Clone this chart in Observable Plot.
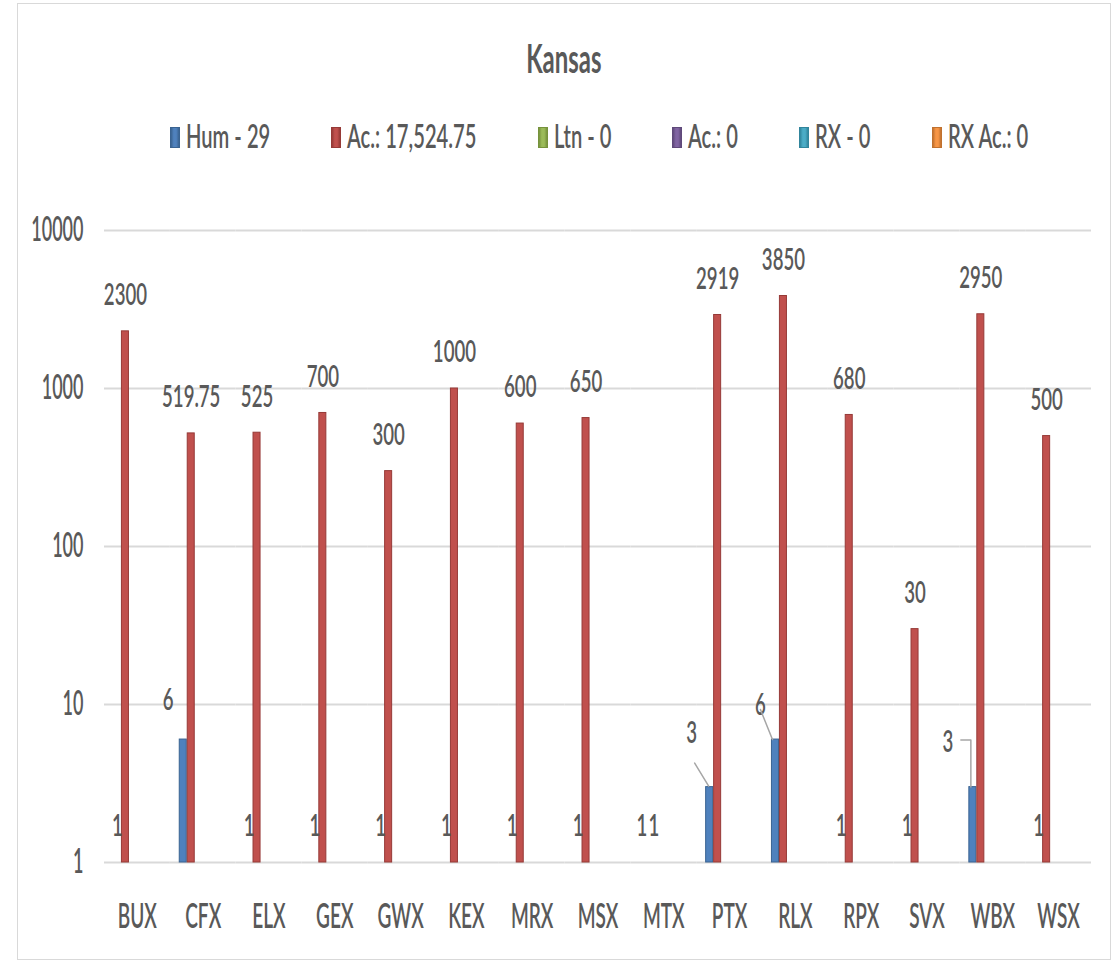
<!DOCTYPE html>
<html>
<head>
<meta charset="utf-8">
<script src="https://cdn.jsdelivr.net/npm/d3@7"></script>
<script src="https://cdn.jsdelivr.net/npm/@observablehq/plot@0.6"></script>
<style>
  html, body { margin: 0; padding: 0; background: #fff; overflow: hidden; }
  #wrap { position: relative; width: 1119px; height: 961px; font-family: Lato, "Open Sans", sans-serif; color: #595959; }
  #frame { position: absolute; left: 17px; top: 3px; width: 1094px; height: 957px; border: 1px solid #d9d9d9; box-sizing: border-box; pointer-events: none; }
  #header { position: relative; height: 180px; }
  #title { position: absolute; left: 17px; width: 1094px; top: 38px; text-align: center; font-size: 40px; line-height: 40px; font-weight: 700; }
  #title span { display: inline-block; transform-origin: center center; }
  #legend { position: absolute; left: 170px; top: 120px; display: flex; align-items: center; font-size: 32px; line-height: 32px; font-weight: 600; white-space: nowrap; }
  .item { display: flex; align-items: center; margin-right: 61px; }
  .mk { display: inline-block; width: 10px; height: 21px; box-sizing: border-box; margin-right: 6px; margin-top: 2px; }
  .lt { display: inline-block; transform-origin: left center; }
  #chart svg { display: block; }
</style>
</head>
<body>
<div id="wrap">
  <div id="header">
    <div id="title"><span>Kansas</span></div>
    <div id="legend"></div>
  </div>
  <div id="chart"></div>
  <div id="frame"></div>
</div>
<script>
// ---- data ----
const categories = ["BUX","CFX","ELX","GEX","GWX","KEX","MRX","MSX","MTX","PTX","RLX","RPX","SVX","WBX","WSX"];
const seriesKeys = ["Hum","Ac","Ltn","LtnAc","RX","RXAc"];
const seriesNames = ["Hum - ","Ac.: ","Ltn - ","Ac.: ","RX - ","RX Ac.: "];
const humValues   = [1, 6, 1, 1, 1, 1, 1, 1, 1, 3, 6, 1, 1, 3, 1];
const acValues    = [2300, 519.75, 525, 700, 300, 1000, 600, 650, 1, 2919, 3850, 680, 30, 2950, 500];
const ltnValues   = [0, 0, 0, 0, 0, 0, 0, 0, 0, 0, 0, 0, 0, 0, 0];
const ltnAcValues = [0, 0, 0, 0, 0, 0, 0, 0, 0, 0, 0, 0, 0, 0, 0];
const rxValues    = [0, 0, 0, 0, 0, 0, 0, 0, 0, 0, 0, 0, 0, 0, 0];
const rxAcValues  = [0, 0, 0, 0, 0, 0, 0, 0, 0, 0, 0, 0, 0, 0, 0];
const yTicks = [1, 10, 100, 1000, 10000];

// ---- styles ----
const seriesFill   = ["#4f81bd","#c0504d","#9bbb59","#8064a2","#4bacc6","#f79646"];
const seriesStroke = ["#3a6391","#963a37","#76923c","#5f497a","#31859c","#c0712f"];
const textColor = "#595959";
const FONT = "Lato, 'Open Sans', sans-serif";
// horizontal glyph compression per text group
const SQ = {y: 0.53, fx: 0.56, text: 0.60, legend: 0.63, title: 0.60};
const labelNudge = {
  "CFX|Hum": {dx: -15, dy: -39},
  "PTX|Hum": {dx: -18, dy: -54},
  "RLX|Hum": {dx: -15, dy: -34},
  "WBX|Hum": {dx: -25, dy: -45},
  "MTX|Hum": {dx: -2, dy: -36},
  "MTX|Ac":  {dx: 2, dy: -36}
};
const leaderShapes = {
  "PTX|Hum": {draw(c) { c.moveTo(-1, -1); c.lineTo(-15, -24); }},
  "RLX|Hum": {draw(c) { c.moveTo(-3, 0); c.lineTo(-15, -30); }},
  "WBX|Hum": {draw(c) { c.moveTo(-2, 0); c.lineTo(-2, -47); c.lineTo(-12, -47); }}
};

const valueArrays = [humValues, acValues, ltnValues, ltnAcValues, rxValues, rxAcValues];
const rows = categories.flatMap((cat, i) => seriesKeys.map((s, j) => ({cat, series: s, value: valueArrays[j][i]})));
const shown = rows.filter(d => d.value > 0);
const keyOf = d => d.cat + "|" + d.series;
const plainLabels = shown.filter(d => !labelNudge[keyOf(d)]);

// ---- legend ----
const legend = document.getElementById("legend");
seriesKeys.forEach((s, j) => {
  const item = document.createElement("div");
  item.className = "item";
  const mk = document.createElement("span");
  mk.className = "mk";
  mk.style.background = `linear-gradient(to right, ${seriesStroke[j]}, ${seriesFill[j]} 35%, ${seriesFill[j]} 65%, ${seriesStroke[j]})`;
  mk.style.border = `1px solid ${seriesStroke[j]}`;
  const lt = document.createElement("span");
  lt.className = "lt";
  lt.textContent = seriesNames[j] + d3.format(",")(d3.sum(valueArrays[j]));
  item.appendChild(mk); item.appendChild(lt);
  legend.appendChild(item);
});

function buildMarks(withLeaders) {
  const TXT = {fontSize: 31, fontWeight: 600, fill: textColor, fontFamily: FONT, textAnchor: "middle", lineAnchor: "middle"};
  const marks = [
    Plot.ruleY(yTicks, {stroke: "#d9d9d9", strokeWidth: 2})
  ];
  seriesKeys.forEach((s, j) => {
    marks.push(Plot.barY(shown.filter(d => d.series === s), {
      fx: "cat", x: "series", y1: () => 1, y2: "value",
      fill: seriesFill[j], stroke: seriesStroke[j], strokeWidth: 1
    }));
  });
  marks.push(Plot.text(plainLabels, {fx: "cat", x: "series", y: "value", text: d => String(d.value), dy: -36, ...TXT}));
  Object.keys(labelNudge).forEach(k => {
    const data = shown.filter(d => keyOf(d) === k);
    marks.push(Plot.text(data, {fx: "cat", x: "series", y: "value", text: d => String(d.value), dx: labelNudge[k].dx, dy: labelNudge[k].dy, ...TXT}));
    if (withLeaders && leaderShapes[k]) {
      marks.push(Plot.vector(data, {fx: "cat", x: "series", y: "value", length: 1, anchor: "start", shape: leaderShapes[k], stroke: "#a6a6a6", strokeWidth: 1.5}));
    }
  });
  return marks;
}

function makePlot(withLeaders) {
  return Plot.plot({
    width: 1119,
    height: 781,
    marginTop: 50,
    marginBottom: 99,
    marginLeft: 104,
    marginRight: 28,
    style: {fontFamily: FONT, fontSize: "34px", fontWeight: 600, color: textColor, background: "transparent", overflow: "visible"},
    fx: {domain: categories, padding: 0, round: false, label: null, tickSize: 0, tickPadding: 41},
    x: {domain: seriesKeys, paddingInner: 0.12, paddingOuter: 1.185, round: false, axis: null},
    y: {type: "log", domain: [1, 10000], ticks: yTicks, tickFormat: d => String(d), tickSize: 0, tickPadding: 21, label: null},
    marks: buildMarks(withLeaders)
  });
}

let chart;
try { chart = makePlot(true); } catch (e) { chart = makePlot(false); }
document.getElementById("chart").appendChild(chart);

// compress glyphs horizontally around each text's anchor
chart.querySelectorAll("text").forEach(t => {
  const g = t.closest("[aria-label]");
  const lab = g ? g.getAttribute("aria-label") : "";
  const s = lab.startsWith("y-axis") ? SQ.y : lab.startsWith("fx-axis") ? SQ.fx : SQ.text;
  const x = parseFloat(t.getAttribute("x") || 0) || 0;
  const tr = t.getAttribute("transform") || "";
  t.setAttribute("transform", `${tr} translate(${x},0) scale(${s},1) translate(${-x},0)`);
});
document.querySelector("#title span").style.transform = `scaleX(${SQ.title})`;
document.querySelectorAll(".lt").forEach(el => {
  const w = el.offsetWidth;
  el.style.transform = `scaleX(${SQ.legend})`;
  el.style.marginRight = `${-(1 - SQ.legend) * w}px`;
});
</script>
</body>
</html>
